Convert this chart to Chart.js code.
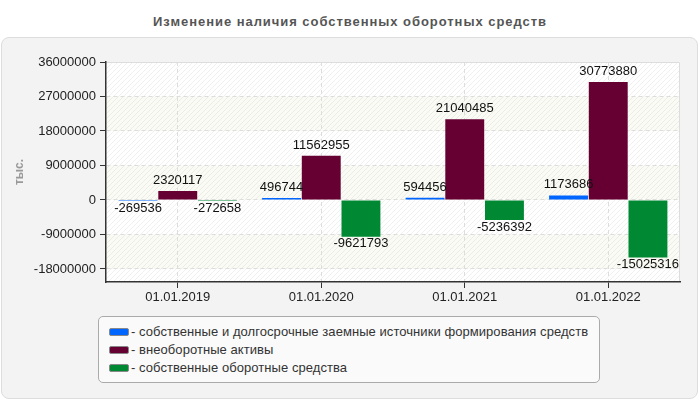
<!DOCTYPE html>
<html>
<head>
<meta charset="utf-8">
<script src="https://cdn.jsdelivr.net/npm/chart.js@4.4.1/dist/chart.umd.min.js"></script>
<style>
  html, body { margin:0; padding:0; width:700px; height:400px; background:#ffffff; overflow:hidden; font-family: "Liberation Sans", Arial, sans-serif; }
  #title { position:absolute; left:0; top:14px; width:700px; text-align:center; font-weight:bold; font-size:13px; letter-spacing:0.95px; color:#555; }
  #panel { position:absolute; left:1px; top:37px; width:695px; height:360px; background:#f3f3f3; border:1px solid #dddddd; border-radius:8px; }
  #wrap { position:absolute; left:0; top:0; width:700px; height:400px; }
  #legend { position:absolute; left:98px; top:316px; width:502px; height:67px; background:#fafafa; border:1px solid #aaaaaa; border-radius:5px; box-sizing:border-box; }
  .item { position:absolute; left:10px; height:18px; font-size:13px; letter-spacing:0.06px; color:#333; line-height:18px; white-space:nowrap; }
  .sw { display:inline-block; width:18px; height:6px; border:1px solid #888; border-radius:2px; vertical-align:middle; margin-right:2px; position:relative; top:-1px; }
</style>
</head>
<body>
<div id="title">Изменение наличия собственных оборотных средств</div>
<div id="panel"></div>
<div id="wrap"><canvas id="c" width="700" height="400"></canvas></div>
<div id="legend"></div>
<script>
const categories = ['01.01.2019', '01.01.2020', '01.01.2021', '01.01.2022'];
const ownAndLongTermSources = [-269536, 496744, 594456, 1173686];
const nonCurrentAssets = [2320117, 11562955, 21040485, 30773880];
const ownWorkingCapital = [-272658, -9621793, -5236392, -15025316];
const seriesNames = [
  '- собственные и долгосрочные заемные источники формирования средств',
  '- внеоборотные активы',
  '- собственные оборотные средства'
];
const seriesColors = ['#0066ff', '#660033', '#008833'];
const yTickValues = [-18000000, -9000000, 0, 9000000, 18000000, 27000000, 36000000];
const yMin = -21400000;
const yMax = 36000000;
const yTitle = 'тыс.';

const FONT = '"Liberation Sans", Arial, sans-serif';

const bgPlugin = {
  id: 'bgBands',
  beforeDraw(chart) {
    const {ctx, chartArea: a, scales: {y}} = chart;
    ctx.save();
    ctx.fillStyle = '#ffffff';
    ctx.fillRect(a.left, a.top, a.right - a.left, a.bottom - a.top);
    const edges = [yMax, ...yTickValues.slice().sort((p, q) => q - p).filter(v => v < yMax), yMin];
    for (let i = 0; i < edges.length - 1; i++) {
      if (i % 2 === 1) {
        const t = y.getPixelForValue(edges[i]);
        const b = y.getPixelForValue(edges[i + 1]);
        ctx.fillStyle = '#fbfbf5';
        ctx.fillRect(a.left, t, a.right - a.left, b - t);
      }
    }
    const pc = document.createElement('canvas');
    pc.width = 5; pc.height = 5;
    const p = pc.getContext('2d');
    p.strokeStyle = 'rgba(0,0,0,0.06)';
    p.lineWidth = 1;
    p.beginPath();
    p.moveTo(0, 5); p.lineTo(5, 0);
    p.moveTo(-1, 1); p.lineTo(1, -1);
    p.moveTo(4, 6); p.lineTo(6, 4);
    p.stroke();
    ctx.fillStyle = ctx.createPattern(pc, 'repeat');
    ctx.fillRect(a.left, a.top, a.right - a.left, a.bottom - a.top);
    ctx.strokeStyle = '#dddddd';
    ctx.lineWidth = 1;
    ctx.beginPath();
    ctx.moveTo(a.left, a.top + 0.5); ctx.lineTo(a.right - 0.5, a.top + 0.5); ctx.lineTo(a.right - 0.5, a.bottom);
    ctx.stroke();
    ctx.restore();
  }
};

const labelPlugin = {
  id: 'valueLabels',
  afterDatasetsDraw(chart) {
    const ctx = chart.ctx;
    ctx.save();
    ctx.font = '13px ' + FONT;
    ctx.fillStyle = '#111';
    ctx.textAlign = 'center';
    ctx.textBaseline = 'alphabetic';
    chart.data.datasets.forEach((ds, di) => {
      const meta = chart.getDatasetMeta(di);
      meta.data.forEach((bar, i) => {
        const v = ds.data[i];
        const yy = v >= 0 ? bar.y - 7 : bar.y + 10.5;
        ctx.fillText(String(v), bar.x, yy);
      });
    });
    ctx.restore();
  }
};

const chart = new Chart(document.getElementById('c'), {
  type: 'bar',
  data: {
    labels: categories,
    datasets: [
      { label: seriesNames[0], data: ownAndLongTermSources, backgroundColor: seriesColors[0] },
      { label: seriesNames[1], data: nonCurrentAssets, backgroundColor: seriesColors[1] },
      { label: seriesNames[2], data: ownWorkingCapital, backgroundColor: seriesColors[2] }
    ]
  },
  options: {
    responsive: false,
    animation: false,
    devicePixelRatio: 1,
    layout: { padding: { left: 0, right: 20, top: 62, bottom: 88 } },
    datasets: { bar: { categoryPercentage: 0.83, barPercentage: 0.98 } },
    plugins: { legend: { display: false }, tooltip: { enabled: false }, title: { display: false } },
    scales: {
      x: {
        offset: true,
        grid: { offset: false, color: '#dddddd', tickColor: '#333', tickLength: 6, tickBorderDash: [] },
        border: { display: true, color: '#333', width: 1.5, dash: [4, 3] },
        ticks: { color: '#222', font: { size: 13, family: FONT }, padding: 2 },
        afterFit(s) { s.height = 30; }
      },
      y: {
        min: yMin, max: yMax,
        grid: { color: '#dddddd', tickColor: '#333', tickLength: 6, tickBorderDash: [] },
        border: { display: true, color: '#333', width: 1.5, dash: [4, 3] },
        ticks: { color: '#222', font: { size: 13, family: FONT }, padding: 4, callback: (v) => String(v) },
        title: { display: true, text: yTitle, color: '#999', font: { size: 12, weight: 'bold', family: FONT }, padding: { top: 12, bottom: 0 } },
        afterBuildTicks(s) { s.ticks = yTickValues.map(v => ({ value: v })); },
        afterFit(s) { s.width = 106; }
      }
    }
  },
  plugins: [bgPlugin, labelPlugin]
});

const legend = document.getElementById('legend');
chart.data.datasets.forEach((ds, i) => {
  const d = document.createElement('div');
  d.className = 'item';
  d.style.top = (6 + i * 18) + 'px';
  const sw = document.createElement('span');
  sw.className = 'sw';
  sw.style.background = ds.backgroundColor;
  d.appendChild(sw);
  d.appendChild(document.createTextNode(ds.label));
  legend.appendChild(d);
});
</script>
</body>
</html>
